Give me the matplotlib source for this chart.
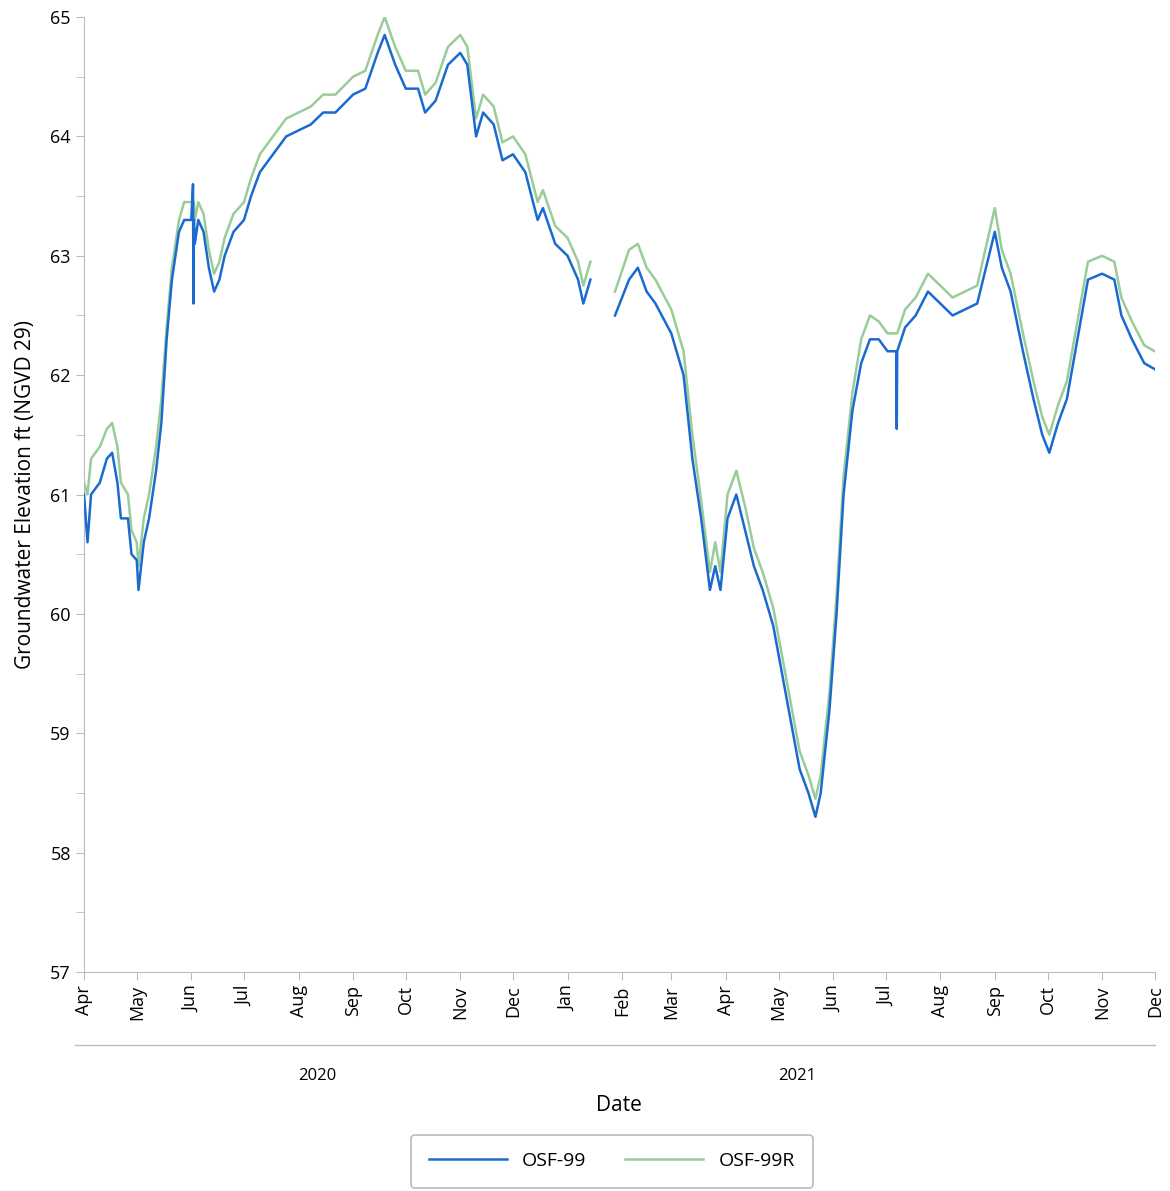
import matplotlib

matplotlib.use("Agg")
import matplotlib.pyplot as plt
import matplotlib.dates as mdates
import numpy as np
import pandas as pd

plt.rcParams["font.family"] = ["Open Sans", "DejaVu Sans"]

# Blue series (OSF-99)
dates_99 = [
    "2020-04-01", "2020-04-03", "2020-04-05", "2020-04-10", "2020-04-14", "2020-04-17",
    "2020-04-20", "2020-04-22", "2020-04-26", "2020-04-28", "2020-05-01", "2020-05-02",
    "2020-05-05", "2020-05-08", "2020-05-12", "2020-05-15", "2020-05-18", "2020-05-21",
    "2020-05-25", "2020-05-28", "2020-06-01", "2020-06-02", "2020-06-02 06:00", "2020-06-02 12:00",
    "2020-06-03", "2020-06-05", "2020-06-08", "2020-06-11", "2020-06-14", "2020-06-17",
    "2020-06-20", "2020-06-25", "2020-07-01", "2020-07-05", "2020-07-10", "2020-07-15",
    "2020-07-20", "2020-07-25", "2020-08-01", "2020-08-08", "2020-08-15", "2020-08-22",
    "2020-09-01", "2020-09-08", "2020-09-15", "2020-09-19", "2020-09-25", "2020-10-01",
    "2020-10-08", "2020-10-12", "2020-10-18", "2020-10-25", "2020-11-01", "2020-11-05",
    "2020-11-10", "2020-11-14", "2020-11-20", "2020-11-25", "2020-12-01", "2020-12-08",
    "2020-12-15", "2020-12-18", "2020-12-25", "2021-01-01", "2021-01-07", "2021-01-10",
    "2021-01-14", "2021-01-20", "2021-01-28", "2021-02-05", "2021-02-10", "2021-02-15",
    "2021-02-20", "2021-03-01", "2021-03-08", "2021-03-13", "2021-03-18", "2021-03-23",
    "2021-03-26", "2021-03-29", "2021-04-02", "2021-04-07", "2021-04-12", "2021-04-17",
    "2021-04-22", "2021-04-28", "2021-05-03", "2021-05-08", "2021-05-13", "2021-05-18",
    "2021-05-22", "2021-05-25", "2021-05-30", "2021-06-03", "2021-06-07", "2021-06-12",
    "2021-06-17", "2021-06-22", "2021-06-27", "2021-07-02", "2021-07-07", "2021-07-07 06:00",
    "2021-07-07 12:00", "2021-07-12", "2021-07-18", "2021-07-25", "2021-08-01", "2021-08-08",
    "2021-08-15", "2021-08-22", "2021-09-01", "2021-09-05", "2021-09-10", "2021-09-17",
    "2021-09-23", "2021-09-28", "2021-10-02", "2021-10-07", "2021-10-12", "2021-10-18",
    "2021-10-24", "2021-11-01", "2021-11-08", "2021-11-12", "2021-11-18", "2021-11-25",
    "2021-12-01",
]
osf_99 = [
    61.0, 60.6, 61.0, 61.1, 61.3, 61.35,
    61.1, 60.8, 60.8, 60.5, 60.45, 60.2,
    60.6, 60.8, 61.2, 61.6, 62.3, 62.8,
    63.2, 63.3, 63.3, 63.6, 62.6, 63.3,
    63.1, 63.3, 63.2, 62.9, 62.7, 62.8,
    63.0, 63.2, 63.3, 63.5, 63.7, 63.8,
    63.9, 64.0, 64.05, 64.1, 64.2, 64.2,
    64.35, 64.4, 64.7, 64.85, 64.6, 64.4,
    64.4, 64.2, 64.3, 64.6, 64.7, 64.6,
    64.0, 64.2, 64.1, 63.8, 63.85, 63.7,
    63.3, 63.4, 63.1, 63.0, 62.8, 62.6,
    62.8, np.nan, 62.5, 62.8, 62.9, 62.7,
    62.6, 62.35, 62.0, 61.3, 60.8, 60.2,
    60.4, 60.2, 60.8, 61.0, 60.7, 60.4,
    60.2, 59.9, 59.5, 59.1, 58.7, 58.5,
    58.3, 58.5, 59.2, 60.0, 61.0, 61.7,
    62.1, 62.3, 62.3, 62.2, 62.2, 61.55,
    62.2, 62.4, 62.5, 62.7, 62.6, 62.5,
    62.55, 62.6, 63.2, 62.9, 62.7, 62.2,
    61.8, 61.5, 61.35, 61.6, 61.8, 62.3,
    62.8, 62.85, 62.8, 62.5, 62.3, 62.1,
    62.05,
]
# Green series (OSF-99R), read at the same dates
osf_99r = [
    61.1, 61.0, 61.3, 61.4, 61.55, 61.6,
    61.4, 61.1, 61.0, 60.7, 60.6, 60.4,
    60.8, 61.0, 61.4, 61.8, 62.4, 62.9,
    63.3, 63.45, 63.45, 63.45, 63.45, 63.45,
    63.3, 63.45, 63.35, 63.05, 62.85, 62.95,
    63.15, 63.35, 63.45, 63.65, 63.85, 63.95,
    64.05, 64.15, 64.2, 64.25, 64.35, 64.35,
    64.5, 64.55, 64.85, 65.0, 64.75, 64.55,
    64.55, 64.35, 64.45, 64.75, 64.85, 64.75,
    64.15, 64.35, 64.25, 63.95, 64.0, 63.85,
    63.45, 63.55, 63.25, 63.15, 62.95, 62.75,
    62.95, np.nan, 62.7, 63.05, 63.1, 62.9,
    62.8, 62.55, 62.2, 61.5, 60.95, 60.35,
    60.6, 60.35, 61.0, 61.2, 60.9, 60.55,
    60.35, 60.05, 59.65, 59.25, 58.85, 58.65,
    58.45, 58.65, 59.35, 60.15, 61.15, 61.85,
    62.3, 62.5, 62.45, 62.35, 62.35, 62.35,
    62.35, 62.55, 62.65, 62.85, 62.75, 62.65,
    62.7, 62.75, 63.4, 63.05, 62.85, 62.35,
    61.95, 61.65, 61.5, 61.75, 61.95, 62.45,
    62.95, 63.0, 62.95, 62.65, 62.45, 62.25,
    62.2,
]

month_ticks = pd.date_range("2020-04-01", "2021-12-01", freq="MS")
year_labels = ["2020", "2021"]

fig = plt.figure(figsize=(11.7, 11.91), dpi=100)
ax = fig.add_axes([0.0718, 0.1839, 0.9152, 0.8018])
d = pd.to_datetime(dates_99, format="mixed")
ax.plot(d, osf_99r, color="#99cc99", linewidth=1.8, label="OSF-99R", zorder=2)
ax.plot(d, osf_99, color="#1a6bd0", linewidth=1.8, label="OSF-99", zorder=3)

ax.set_xlim(pd.Timestamp("2020-04-01"), pd.Timestamp("2021-12-01"))
ax.set_ylim(57, 65)
ax.set_yticks(range(57, 66))
ax.set_yticks(np.arange(57, 65.01, 0.5), minor=True)
ax.set_xticks(month_ticks)
ax.xaxis.set_major_formatter(mdates.DateFormatter("%b"))
ax.tick_params(axis="x", rotation=90, labelsize=13, color="#bbbbbb", length=6)
ax.tick_params(axis="y", labelsize=13, color="#bbbbbb", length=6)
ax.tick_params(axis="y", which="minor", color="#bbbbbb", length=6)
for s in ["top", "right"]:
    ax.spines[s].set_visible(False)
for s in ["left", "bottom"]:
    ax.spines[s].set_color("#bbbbbb")
ax.set_ylabel("Groundwater Elevation ft (NGVD 29)", fontsize=15, labelpad=10)

# year band below month labels
ax.plot([-0.008, 1.0], [-0.076, -0.076], transform=ax.transAxes, color="#bbbbbb",
        linewidth=1, clip_on=False)
ax.text(0.218, -0.113, year_labels[0], transform=ax.transAxes, ha="center", fontsize=12)
ax.text(0.666, -0.113, year_labels[1], transform=ax.transAxes, ha="center", fontsize=12)
ax.text(0.5, -0.146, "Date", transform=ax.transAxes, ha="center", fontsize=15)

h, l = ax.get_legend_handles_labels()
leg = fig.legend(h[::-1], l[::-1], loc="center", bbox_to_anchor=(0.523, 0.025), ncol=2,
                 fontsize=14, frameon=True, fancybox=True, edgecolor="#aaaaaa",
                 handlelength=4, borderpad=0.9, columnspacing=2.0)
leg.get_frame().set_linewidth(1.2)

fig.savefig("out.png", dpi=100)
